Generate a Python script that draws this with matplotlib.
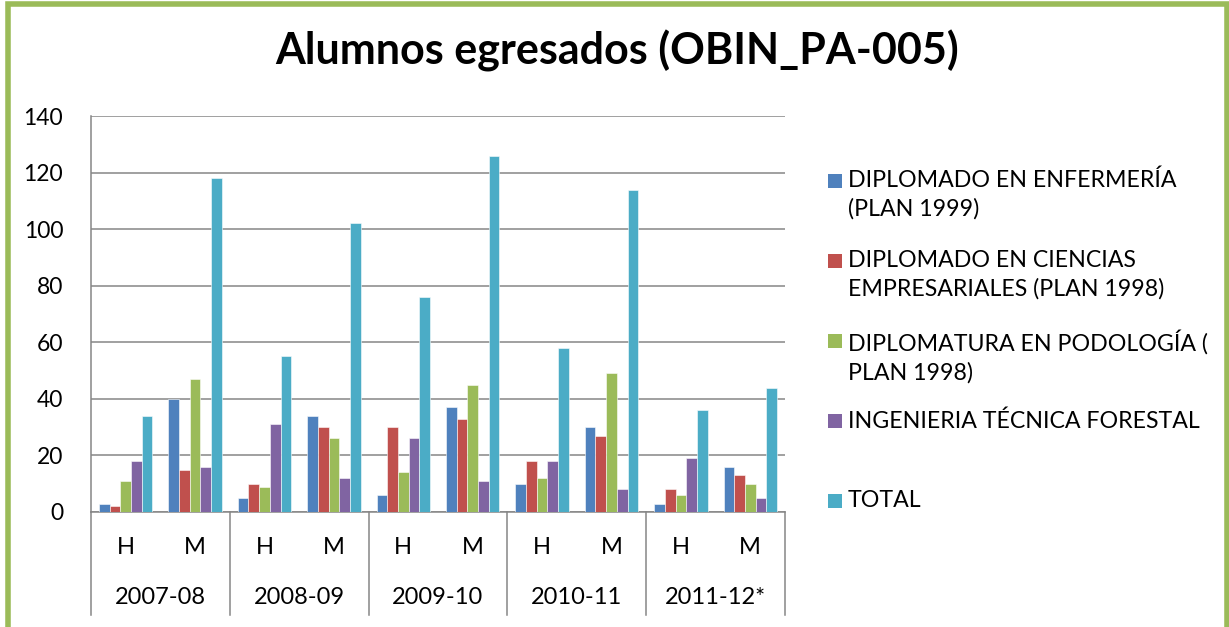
import matplotlib
matplotlib.use("Agg")
import matplotlib.pyplot as plt
import matplotlib.transforms as mtransforms
from matplotlib.patches import Rectangle
import numpy as np

plt.rcParams['font.family'] = ['Lato', 'DejaVu Sans']

# cursos y sexo (H = hombres, M = mujeres)
years = ["2007-08", "2008-09", "2009-10", "2010-11", "2011-12*"]
sexes = ["H", "M"]

series_names = [
    "DIPLOMADO EN ENFERMERÍA\n(PLAN 1999)",
    "DIPLOMADO EN CIENCIAS\nEMPRESARIALES (PLAN 1998)",
    "DIPLOMATURA EN PODOLOGÍA (\nPLAN 1998)",
    "INGENIERIA TÉCNICA FORESTAL",
    "TOTAL",
]
enfermeria = [3, 40, 5, 34, 6, 37, 10, 30, 3, 16]
empresariales = [2, 15, 10, 30, 30, 33, 18, 27, 8, 13]
podologia = [11, 47, 9, 26, 14, 45, 12, 49, 6, 10]
forestal = [18, 16, 31, 12, 26, 11, 18, 8, 19, 5]
total = [34, 118, 55, 102, 76, 126, 58, 114, 36, 44]

colors = ["#4F81BD", "#C0504D", "#9BBB59", "#8064A2", "#4BACC6"]
grid_col = "#868686"

W, H = 1229, 627
fig = plt.figure(figsize=(W / 100, H / 100), dpi=100)

# plot area in pixels
x0, x1, ytop, ybot = 91, 785, 116, 512
ax = fig.add_axes([x0 / W, 1 - ybot / H, (x1 - x0) / W, (ybot - ytop) / H])

all_series = [enfermeria, empresariales, podologia, forestal, total]
n_cat = len(years) * len(sexes)
x = np.arange(n_cat)
bw = 1 / 6.5
for i, (vals, col) in enumerate(zip(all_series, colors)):
    ax.bar(x + (i - 2) * bw, vals, width=bw, color=col,
           edgecolor=(1, 1, 1, 0.55), linewidth=0.7, zorder=3)

ax.set_xlim(-0.5, n_cat - 0.5)
ax.set_ylim(0, 140)
ax.set_yticks(np.arange(0, 141, 20))
ax.yaxis.grid(True, color=grid_col, linewidth=1.1, zorder=0)
ax.tick_params(axis='y', length=0, pad=20, labelsize=16.5)
ax.set_xticks([])
for s in ["top", "right"]:
    ax.spines[s].set_visible(False)
for s in ["left", "bottom"]:
    ax.spines[s].set_color(grid_col)
    ax.spines[s].set_linewidth(1.1)

# two-level category axis
axh = ybot - ytop
trans = mtransforms.blended_transform_factory(ax.transData, ax.transAxes)
sep_bottom = -(615 - ybot) / axh
for k in range(len(years) + 1):
    ax.plot([k * 2 - 0.5] * 2, [0, sep_bottom], transform=trans,
            color=grid_col, lw=1.1, clip_on=False)
for k in range(n_cat):
    ax.text(k, -(547 - ybot) / axh, sexes[k % 2], transform=trans,
            ha='center', va='center', fontsize=17)
for k, yr in enumerate(years):
    ax.text(2 * k + 0.5, -(597 - ybot) / axh, yr, transform=trans,
            ha='center', va='center', fontsize=17)

fig.text(617 / W, 1 - 51 / H, "Alumnos egresados (OBIN_PA-005)",
         ha='center', va='center', fontsize=31, fontweight='bold')

# legend
leg_y = [181, 261, 341, 421, 501]
for name, col, yy in zip(series_names, colors, leg_y):
    fig.add_artist(Rectangle((828 / W, 1 - (yy + 7) / H), 14 / W, 14 / H,
                             transform=fig.transFigure, facecolor=col,
                             edgecolor='none'))
    fig.text(848 / W, 1 - (yy - 11) / H, name, ha='left', va='top',
             fontsize=16.7, linespacing=1.38)

# green frame round the chart
fig.add_artist(Rectangle((8 / W, -0.02), (1227 - 8) / W, 1 - 4.5 / H + 0.02,
                         transform=fig.transFigure, fill=False,
                         edgecolor="#9BBB59", linewidth=4))

fig.savefig("out.png", dpi=100)
